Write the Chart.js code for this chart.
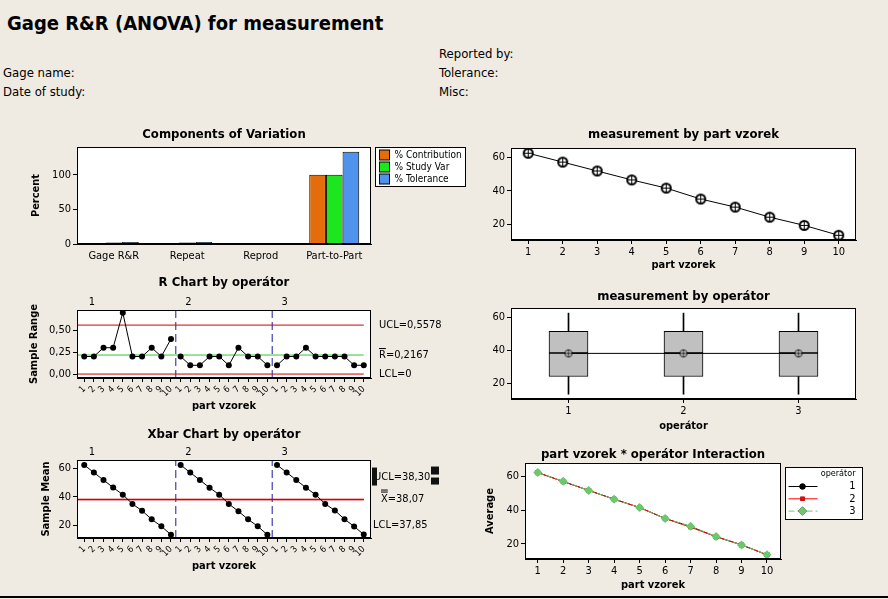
<!DOCTYPE html>
<html>
<head>
<meta charset="utf-8">
<script src="https://cdn.jsdelivr.net/npm/chart.js@4.4.1/dist/chart.umd.min.js"></script>
<style>
  body { margin: 0; width: 888px; height: 599px; background: #efebe2; position: relative; overflow: hidden;
         font-family: "DejaVu Sans Condensed", "DejaVu Sans", sans-serif; }
  .t { position: absolute; white-space: nowrap; font-size: 13px; line-height: 16px; color: #000; }
  canvas { position: absolute; }
</style>
</head>
<body>
<div class="t" style="left:7px;top:10px;font-size:20px;line-height:26px;font-weight:bold">Gage R&amp;R (ANOVA) for measurement</div>
<div class="t" style="left:439px;top:46px">Reported by:</div>
<div class="t" style="left:3px;top:65px">Gage name:</div>
<div class="t" style="left:439px;top:65px">Tolerance:</div>
<div class="t" style="left:3px;top:84px">Date of study:</div>
<div class="t" style="left:439px;top:84px">Misc:</div>
<div style="position:absolute;left:0;top:596px;width:888px;height:2px;background:#000"></div>

<script>
// ---- data ----
const components = ['Gage R&R', 'Repeat', 'Reprod', 'Part-to-Part'];
const componentSeries = ['% Contribution', '% Study Var', '% Tolerance'];
const pctContribution = [0.05, 0.05, 0, 99.95];
const pctStudyVar = [2.2, 2.2, 0, 99.98];
const pctTolerance = [2.9, 2.9, 0, 133];

const parts = [1, 2, 3, 4, 5, 6, 7, 8, 9, 10];
const operators = ['1', '2', '3'];

// sample range per part, one list per operator
const rangeOp1 = [0.2, 0.2, 0.3, 0.3, 0.7, 0.2, 0.2, 0.3, 0.2, 0.4];
const rangeOp2 = [0.2, 0.1, 0.1, 0.2, 0.2, 0.1, 0.3, 0.2, 0.2, 0.1];
const rangeOp3 = [0.1, 0.2, 0.2, 0.3, 0.2, 0.2, 0.2, 0.2, 0.1, 0.1];
const rUCL = 0.5578, rBar = 0.2167, rLCL = 0;

// sample mean per part, one list per operator
const meanOp1 = [62.3, 57.0, 51.7, 46.5, 41.5, 35.0, 30.2, 24.2, 19.3, 13.4];
const meanOp2 = [62.3, 57.0, 51.7, 46.4, 41.5, 35.0, 29.8, 24.2, 19.3, 13.4];
const meanOp3 = [62.3, 57.1, 51.7, 46.4, 41.5, 35.0, 30.4, 24.3, 19.2, 13.5];
const xUCL = 38.30, xBarBar = 38.07, xLCL = 37.85;

const partMeans = [62.3, 57.0, 51.7, 46.4, 41.5, 35.0, 30.2, 24.2, 19.3, 13.4];

// box plot stats by operator
const opMin = [13.4, 13.4, 13.4];
const opQ1 = [24.1, 24.1, 24.1];
const opMedian = [38.3, 38.3, 38.3];
const opQ3 = [51.4, 51.4, 51.4];
const opMax = [62.4, 62.4, 62.4];
const opMean = [38.07, 38.07, 38.07];

const yTicksPct = [0, 50, 100];
const yTicksRange = [0, 0.25, 0.5];
const yTicksMean = [20, 40, 60];

// ---- setup ----
const FONT = '"DejaVu Sans Condensed", "DejaVu Sans", sans-serif';
Chart.defaults.font.family = FONT;
Chart.defaults.font.size = 11;
Chart.defaults.color = '#000';
Chart.defaults.animation = false;
Chart.defaults.events = [];
Chart.defaults.plugins.legend.display = false;
Chart.defaults.plugins.tooltip.enabled = false;

const ORANGE = '#e46c0a', GREEN = '#1ee61e', BLUE = '#4f93ec';
const RED = '#d20000', NAVY = '#1c1ca8', LIGHTGREEN = '#6cc86c';

// white plot area + black frame
Chart.register({
  id: 'frame',
  beforeDraw(chart) {
    const a = chart.chartArea, c = chart.ctx;
    c.save(); c.fillStyle = '#fff'; c.fillRect(a.left, a.top, a.width, a.height); c.restore();
  },
  afterDraw(chart) {
    const a = chart.chartArea, c = chart.ctx;
    c.save(); c.strokeStyle = '#000'; c.lineWidth = 1; c.setLineDash([]);
    c.strokeRect(Math.round(a.left) + 0.5, Math.round(a.top) + 0.5, Math.round(a.width) - 1, Math.round(a.height) - 1);
    c.restore();
  }
});

function makeCanvas(box) {
  const c = document.createElement('canvas');
  c.width = box[2]; c.height = box[3];
  c.style.left = box[0] + 'px'; c.style.top = box[1] + 'px';
  document.body.appendChild(c);
  return c;
}

function pads(box, plot, yW, xH) {
  return {
    left: Math.round(plot[0] - box[0] - yW),
    top: plot[1] - box[1],
    right: box[0] + box[2] - plot[0] - plot[2],
    bottom: Math.round(box[1] + box[3] - plot[1] - plot[3] - xH)
  };
}

const comma = (v, d) => v.toFixed(d).replace('.', ',');

function yScale(min, max, ticks, W, title, digits) {
  return {
    type: 'linear', position: 'left', min, max,
    afterBuildTicks: s => { s.ticks = ticks.map(v => ({ value: v })); },
    afterFit: s => { s.width = W; },
    border: { color: '#000' },
    grid: { drawOnChartArea: false, color: '#000', tickLength: 4 },
    ticks: { padding: 2, font: { size: 11 }, callback: v => comma(v, digits) },
    title: { display: !!title, text: title, padding: 0, font: { size: 11, weight: 'bold' } }
  };
}

function xLinear(min, max, ticks, H, title, label, rot, size) {
  return {
    type: 'linear', position: 'bottom', min, max,
    afterBuildTicks: s => { s.ticks = ticks.map(v => ({ value: v })); },
    afterFit: s => { s.height = H; },
    border: { color: '#000' },
    grid: { drawOnChartArea: false, color: '#000', tickLength: 4 },
    ticks: { padding: 2, autoSkip: false, minRotation: rot, maxRotation: rot, font: { size }, callback: label },
    title: { display: true, text: title, padding: 0, font: { size: 11, weight: 'bold' } }
  };
}

function deco(title, gap, extra) {
  return {
    id: 'deco',
    afterDraw(chart) {
      const a = chart.chartArea, c = chart.ctx;
      c.save();
      c.fillStyle = '#000'; c.font = 'bold 13px ' + FONT;
      c.textAlign = 'center'; c.textBaseline = 'middle';
      c.fillText(title, (a.left + a.right) / 2, a.top - gap);
      c.restore();
      if (extra) { c.save(); extra(chart, c, a); c.restore(); }
    }
  };
}

function ringMarker(r, lw) {
  const s = Math.ceil(2 * r + lw + 2), m = s / 2;
  const c = document.createElement('canvas');
  c.width = c.height = s;
  const g = c.getContext('2d');
  g.beginPath(); g.arc(m, m, r, 0, 2 * Math.PI);
  g.fillStyle = '#fff'; g.fill();
  g.lineWidth = lw; g.strokeStyle = '#000'; g.stroke();
  g.lineWidth = 1; g.beginPath();
  g.moveTo(m - r, m); g.lineTo(m + r, m); g.moveTo(m, m - r); g.lineTo(m, m + r); g.stroke();
  return c;
}

function line(data, color, extra) {
  return Object.assign({ data, showLine: true, borderColor: color, backgroundColor: color,
    borderWidth: 1, pointRadius: 0 }, extra || {});
}

// ---- 1. Components of Variation ----
(function () {
  const box = [0, 125, 470, 140], plot = [77, 147, 294, 97];
  const bar = { borderColor: '#000', borderWidth: 1, categoryPercentage: 0.68, barPercentage: 1 };
  const colors = [ORANGE, GREEN, BLUE];
  const values = [pctContribution, pctStudyVar, pctTolerance];
  new Chart(makeCanvas(box), {
    type: 'bar',
    data: {
      labels: components,
      datasets: values.map((v, i) => Object.assign({ label: componentSeries[i], data: v, backgroundColor: colors[i] }, bar))
    },
    options: {
      responsive: false,
      layout: { padding: pads(box, plot, 47, 20) },
      scales: {
        x: { afterFit: s => { s.height = 20; }, grid: { display: false, drawTicks: false }, border: { color: '#000' },
             ticks: { padding: 6, font: { size: 11 } } },
        y: yScale(0, 140, yTicksPct, 47, 'Percent', 0)
      }
    },
    plugins: [deco('Components of Variation', 12, (chart, c, a) => {
      const x0 = a.right + 4.5, y0 = a.top + 0.5;
      c.fillStyle = '#fff'; c.fillRect(x0, y0, 90, 39);
      c.strokeStyle = '#000'; c.lineWidth = 1; c.strokeRect(x0, y0, 90, 39);
      c.font = '10px ' + FONT; c.textBaseline = 'middle';
      chart.data.datasets.forEach((d, i) => {
        const yy = y0 + 7.5 + i * 12;
        c.fillStyle = d.backgroundColor; c.fillRect(x0 + 4, yy - 5, 10, 10);
        c.strokeRect(x0 + 4, yy - 5, 10, 10);
        c.fillStyle = '#000'; c.fillText(d.label, x0 + 19, yy);
      });
    })]
  });
})();

// ---- shared pieces for R and Xbar charts ----
const nParts = parts.length;
const seqTicks = operators.flatMap((o, k) => parts.map(p => k * nParts + p));
const seqLabel = v => String(((v - 1) % nParts) + 1);
const seqMin = 0.25, seqMax = operators.length * nParts + 0.75;
const seqEnd = operators.length * nParts;

function byOperator(series) {
  return series.map((arr, k) => line(arr.map((v, i) => ({ x: k * nParts + parts[i], y: v })), '#000',
    { pointRadius: 3, pointBackgroundColor: '#000', pointBorderWidth: 0 }));
}
function dividers(ymin, ymax) {
  return operators.slice(1).map((o, k) => line([{ x: (k + 1) * nParts + 0.5, y: ymin }, { x: (k + 1) * nParts + 0.5, y: ymax }],
    NAVY, { borderDash: [8, 4], borderWidth: 1 }));
}
function hLine(v, color) {
  return line([{ x: seqMin, y: v }, { x: seqEnd, y: v }], color);
}
function opLabels(chart, c, a) {
  const x = chart.scales.x;
  c.font = '11px ' + FONT; c.fillStyle = '#000'; c.textAlign = 'center'; c.textBaseline = 'middle';
  operators.forEach((o, k) => c.fillText(o, x.getPixelForValue(k * nParts + 1.8), a.top - 8));
}

// ---- 2. R chart ----
(function () {
  const box = [0, 272, 470, 148], plot = [77, 310, 294, 68];
  const ymin = -0.045, ymax = 0.73;
  new Chart(makeCanvas(box), {
    type: 'scatter',
    data: {
      datasets: [
        ...byOperator([rangeOp1, rangeOp2, rangeOp3]),
        hLine(rUCL, RED), hLine(rBar, '#2ecc2e'), hLine(rLCL, RED),
        ...dividers(ymin, ymax)
      ]
    },
    options: {
      responsive: false,
      layout: { padding: pads(box, plot, 49, 35) },
      scales: {
        x: xLinear(seqMin, seqMax, seqTicks, 35, 'part vzorek', seqLabel, 45, 9),
        y: yScale(ymin, ymax, yTicksRange, 49, 'Sample Range', 2)
      }
    },
    plugins: [deco('R Chart by operátor', 27, (chart, c, a) => {
      opLabels(chart, c, a);
      const y = chart.scales.y, x0 = a.right + 8;
      c.textAlign = 'left';
      c.fillText('UCL=' + comma(rUCL, 4), x0, y.getPixelForValue(rUCL));
      const yb = y.getPixelForValue(rBar);
      c.fillText('R', x0, yb);
      const w = c.measureText('R').width;
      c.fillRect(x0, yb - 7, w, 1);
      c.fillText('=' + comma(rBar, 4), x0 + w, yb);
      c.fillText('LCL=' + comma(rLCL, 0), x0, y.getPixelForValue(rLCL));
    })]
  });
})();

// ---- 3. Xbar chart ----
(function () {
  const box = [0, 424, 470, 156], plot = [77, 460, 294, 78];
  const ymin = 11.1, ymax = 65.8;
  new Chart(makeCanvas(box), {
    type: 'scatter',
    data: {
      datasets: [
        ...byOperator([meanOp1, meanOp2, meanOp3]),
        hLine(xUCL, RED), hLine(xBarBar, RED), hLine(xLCL, RED),
        ...dividers(ymin, ymax)
      ]
    },
    options: {
      responsive: false,
      layout: { padding: pads(box, plot, 37, 35) },
      scales: {
        x: xLinear(seqMin, seqMax, seqTicks, 35, 'part vzorek', seqLabel, 45, 9),
        y: yScale(ymin, ymax, yTicksMean, 37, 'Sample Mean', 0)
      }
    },
    plugins: [deco('Xbar Chart by operátor', 25, (chart, c, a) => {
      opLabels(chart, c, a);
      const yc = chart.scales.y.getPixelForValue(xBarBar);
      c.textAlign = 'left';
      c.fillText('UCL=' + comma(xUCL, 2), a.right + 3, yc - 22);
      const xw = c.measureText('X').width, x1 = a.right + 10;
      c.fillText('X', x1, yc);
      c.fillRect(x1, yc - 10, xw, 1); c.fillRect(x1, yc - 8, xw, 1);
      c.fillText('=' + comma(xBarBar, 2), x1 + xw, yc);
      c.fillText('LCL=' + comma(xLCL, 2), a.right + 2, yc + 26);
      // selection handles around the UCL label
      c.fillStyle = '#111';
      c.fillRect(a.right + 1, yc - 32, 5, 18);
      c.fillRect(a.right + 60, yc - 33, 8, 8);
      c.fillRect(a.right + 60, yc - 22, 8, 7);
    })]
  });
})();

// ---- 4. measurement by part ----
(function () {
  const box = [470, 125, 418, 150], plot = [511, 148, 345, 92];
  new Chart(makeCanvas(box), {
    type: 'scatter',
    data: {
      datasets: [line(parts.map((p, i) => ({ x: p, y: partMeans[i] })), '#000',
        { pointStyle: ringMarker(4.5, 2), pointRadius: 5 })]
    },
    options: {
      responsive: false,
      layout: { padding: pads(box, plot, 30, 32) },
      scales: {
        x: xLinear(0.5, 10.5, parts, 32, 'part vzorek', v => String(v), 0, 11),
        y: yScale(10.6, 65.4, yTicksMean, 30, '', 0)
      }
    },
    plugins: [deco('measurement by part vzorek', 13)]
  });
})();

// ---- 5. measurement by operator (box plot) ----
(function () {
  const box = [470, 282, 418, 155], plot = [511, 308, 345, 91];
  const boxStyle = { backgroundColor: '#c0c0c0', borderColor: '#000', borderWidth: 1, borderSkipped: false,
    barThickness: 39, grouped: false, order: 2 };
  const whisker = { backgroundColor: '#000', borderWidth: 0, barThickness: 1, grouped: false, order: 2 };
  new Chart(makeCanvas(box), {
    type: 'bar',
    data: {
      labels: operators,
      datasets: [
        Object.assign({ data: opQ1.map((v, i) => [v, opMedian[i]]) }, boxStyle),
        Object.assign({ data: opMedian.map((v, i) => [v, opQ3[i]]) }, boxStyle),
        Object.assign({ data: opQ3.map((v, i) => [v, opMax[i]]) }, whisker),
        Object.assign({ data: opMin.map((v, i) => [v, opQ1[i]]) }, whisker),
        { type: 'line', data: opMean, borderColor: '#000', borderWidth: 1, order: 0,
          pointStyle: ringMarker(3.5, 1), pointRadius: 4 }
      ]
    },
    options: {
      responsive: false,
      layout: { padding: pads(box, plot, 30, 34) },
      scales: {
        x: { afterFit: s => { s.height = 34; }, border: { color: '#000' },
             grid: { drawOnChartArea: false, offset: false, color: '#000', tickLength: 4 },
             ticks: { padding: 2, font: { size: 11 } },
             title: { display: true, text: 'operátor', padding: 0, font: { size: 11, weight: 'bold' } } },
        y: yScale(10.5, 65.5, yTicksMean, 30, '', 0)
      }
    },
    plugins: [deco('measurement by operátor', 11)]
  });
})();

// ---- 6. interaction ----
(function () {
  const box = [470, 443, 418, 153], plot = [525, 463, 256, 96];
  const styles = [
    { color: '#000', pointStyle: 'circle', pointRadius: 3, dash: [] },
    { color: '#ff0000', pointStyle: 'rect', pointRadius: 3, dash: [] },
    { color: LIGHTGREEN, pointStyle: 'rectRot', pointRadius: 4.5, dash: [6, 3] }
  ];
  const series = [meanOp1, meanOp2, meanOp3];
  new Chart(makeCanvas(box), {
    type: 'scatter',
    data: {
      datasets: series.map((arr, k) => line(parts.map((p, i) => ({ x: p, y: arr[i] })), styles[k].color, {
        label: operators[k], pointStyle: styles[k].pointStyle, pointRadius: styles[k].pointRadius,
        borderDash: styles[k].dash, order: series.length - k, pointBorderWidth: 0
      }))
    },
    options: {
      responsive: false,
      layout: { padding: pads(box, plot, 41, 33) },
      scales: {
        x: xLinear(0.5, 10.55, parts, 33, 'part vzorek', v => String(v), 0, 11),
        y: yScale(10.9, 68, yTicksMean, 41, 'Average', 0)
      }
    },
    plugins: [deco('part vzorek * operátor Interaction', 8, (chart, c, a) => {
      const x0 = a.right + 4.5, y0 = a.top + 4.5, w = 77, h = 52;
      c.fillStyle = '#fff'; c.fillRect(x0, y0, w, h);
      c.strokeStyle = '#000'; c.lineWidth = 1; c.strokeRect(x0, y0, w, h);
      c.fillStyle = '#000'; c.textAlign = 'right'; c.textBaseline = 'middle';
      c.font = '9px ' + FONT;
      c.fillText('operátor', x0 + w - 7, y0 + 6);
      c.font = '11px ' + FONT;
      chart.data.datasets.forEach((d, k) => {
        const yy = y0 + 19 + k * 12.3;
        c.strokeStyle = d.borderColor; c.setLineDash(d.borderDash);
        c.beginPath(); c.moveTo(x0 + 3, yy); c.lineTo(x0 + 32, yy); c.stroke();
        c.setLineDash([]);
        Chart.helpers.drawPoint(c, { pointStyle: d.pointStyle, radius: d.pointRadius, borderWidth: 0, rotation: 0 }, x0 + 17, yy);
        c.fillStyle = d.borderColor; c.fill();
        c.fillStyle = '#000';
        c.fillText(d.label, x0 + w - 7, yy);
      });
    })]
  });
})();
</script>
</body>
</html>
